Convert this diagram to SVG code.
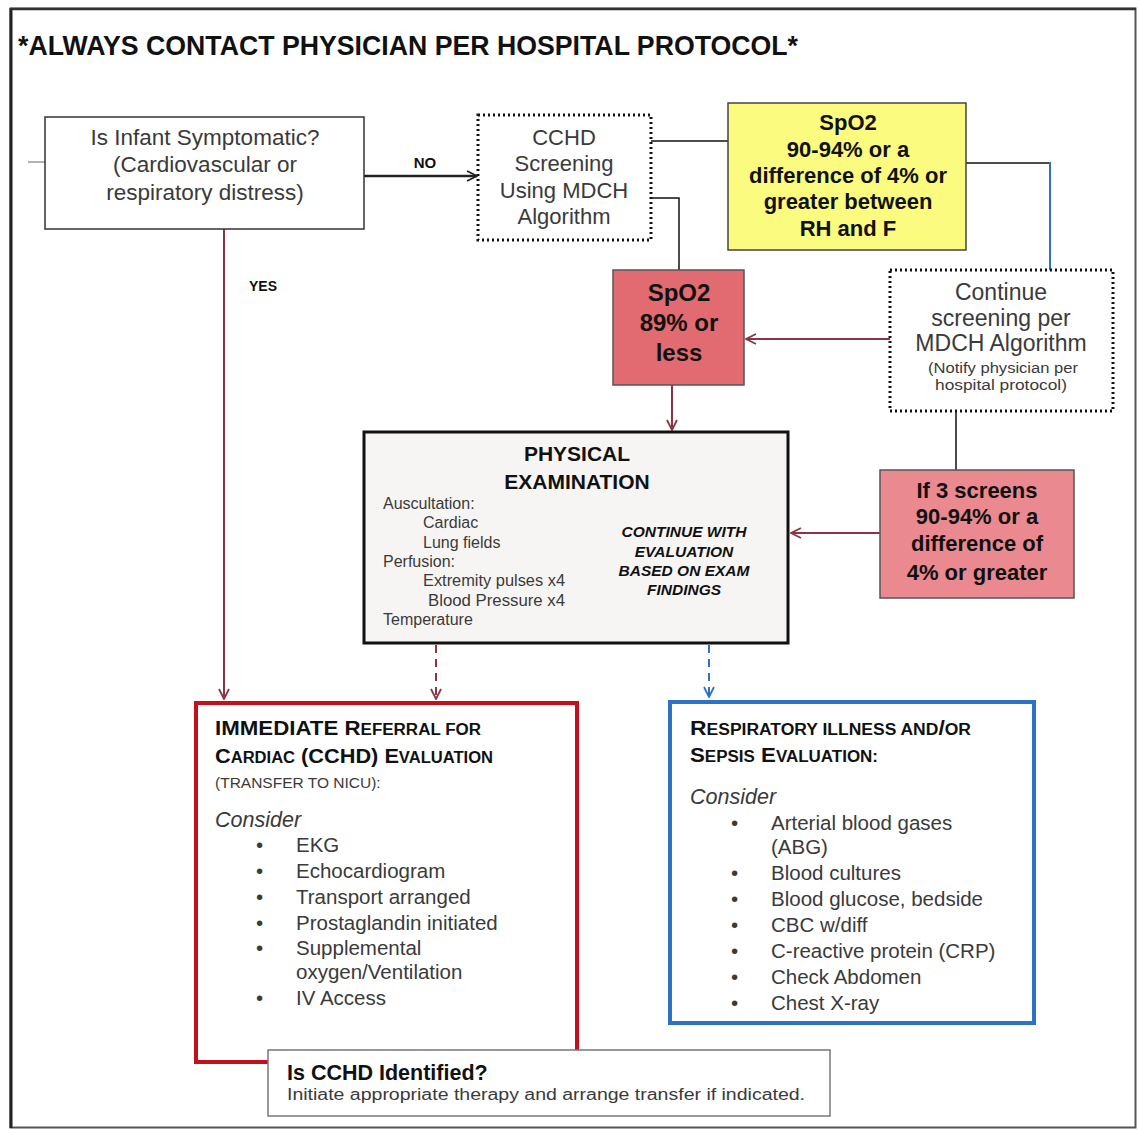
<svg xmlns="http://www.w3.org/2000/svg" width="1139" height="1130" viewBox="0 0 1139 1130">
<defs>
<style>
.t{font-family:"Liberation Sans",Arial,sans-serif;fill:#3a3a3a}
.b{font-family:"Liberation Sans",Arial,sans-serif;font-weight:bold;fill:#111}
.c{text-anchor:middle}
.box{fill:#fff;stroke:#333;stroke-width:1.5}
.dot{fill:#fff;stroke:#111;stroke-width:3;stroke-dasharray:2 3}
.k{fill:none;stroke:#111;stroke-width:1.5}
.r{fill:none;stroke:#8a3444;stroke-width:2}
</style>
<marker id="ar" viewBox="0 0 12 12" refX="11" refY="6" markerWidth="12" markerHeight="12" markerUnits="userSpaceOnUse" orient="auto"><path d="M1,1 L11,6 L1,11" fill="none" stroke="#8a3444" stroke-width="1.8"/></marker>
<marker id="ak" viewBox="0 0 12 12" refX="11" refY="6" markerWidth="12" markerHeight="12" markerUnits="userSpaceOnUse" orient="auto"><path d="M1,1 L11,6 L1,11" fill="none" stroke="#222" stroke-width="1.8"/></marker>
<marker id="ab" viewBox="0 0 12 12" refX="11" refY="6" markerWidth="12" markerHeight="12" markerUnits="userSpaceOnUse" orient="auto"><path d="M1,1 L11,6 L1,11" fill="none" stroke="#2d72c4" stroke-width="1.8"/></marker>
</defs>
<rect width="1139" height="1130" fill="#fff"/>
<rect x="10.5" y="8.5" width="1125" height="1119" fill="#fff" stroke="#555" stroke-width="2"/>
<line x1="11" y1="8" x2="11" y2="1128" stroke="#222" stroke-width="3"/>
<line x1="10" y1="9" x2="1136" y2="9" stroke="#333" stroke-width="2.5"/>
<text class="b" x="18" y="55" font-size="27" textLength="780" lengthAdjust="spacingAndGlyphs">*ALWAYS CONTACT PHYSICIAN PER HOSPITAL PROTOCOL*</text>

<g id="connectors">
<line x1="28" y1="162" x2="45" y2="162" stroke="#999" stroke-width="1.5"/>
<line x1="364" y1="176" x2="477" y2="176" stroke="#222" stroke-width="2.5" marker-end="url(#ak)"/>
<text class="b" x="425" y="168" font-size="15" text-anchor="middle">NO</text>
<polyline class="k" points="651,141 728,141"/>
<polyline class="k" points="651,198 679,198 679,270"/>
<polyline class="k" points="966,163 1050,163"/>
<line x1="1050" y1="162" x2="1050" y2="270" stroke="#2d72c4" stroke-width="2"/>
<line class="r" x1="890" y1="339" x2="746" y2="339" marker-end="url(#ar)"/>
<line class="k" x1="956" y1="411" x2="956" y2="470"/>
<line class="r" x1="880" y1="533" x2="791" y2="533" marker-end="url(#ar)"/>
<line class="r" x1="672" y1="385" x2="672" y2="430" marker-end="url(#ar)"/>
<line class="r" x1="224" y1="229" x2="224" y2="699" marker-end="url(#ar)"/>
<text class="b" x="263" y="291" font-size="14" text-anchor="middle">YES</text>
<line class="r" x1="436" y1="645" x2="436" y2="699" stroke-dasharray="8 6" marker-end="url(#ar)"/>
<line x1="709" y1="645" x2="709" y2="697" stroke="#2d72c4" stroke-width="2" stroke-dasharray="8 6" marker-end="url(#ab)"/>
</g>

<g id="symptomatic">
<rect class="box" x="45" y="117" width="319" height="112"/>
<text class="t c" x="205" y="145" font-size="22.5">Is Infant Symptomatic?</text>
<text class="t c" x="205" y="172" font-size="22.5">(Cardiovascular or</text>
<text class="t c" x="205" y="200" font-size="22.5">respiratory distress)</text>
</g>

<g id="screening">
<rect class="dot" x="478" y="115" width="173" height="125"/>
<text class="t c" x="564" y="145" font-size="22">CCHD</text>
<text class="t c" x="564" y="171" font-size="22">Screening</text>
<text class="t c" x="564" y="198" font-size="22">Using MDCH</text>
<text class="t c" x="564" y="224" font-size="22">Algorithm</text>
</g>

<g id="yellow">
<rect x="728" y="103" width="238" height="147" fill="#fbfb80" stroke="#444" stroke-width="1.5"/>
<text class="b c" x="848" y="130" font-size="22">SpO2</text>
<text class="b c" x="848" y="157" font-size="22">90-94% or a</text>
<text class="b c" x="848" y="183" font-size="22">difference of 4% or</text>
<text class="b c" x="848" y="209" font-size="22">greater between</text>
<text class="b c" x="848" y="236" font-size="22">RH and F</text>
</g>

<g id="spo2low">
<rect x="613" y="270" width="131" height="115" fill="#e16b70" stroke="#555" stroke-width="1.5"/>
<text class="b c" x="679" y="301" font-size="24">SpO2</text>
<text class="b c" x="679" y="331" font-size="24">89% or</text>
<text class="b c" x="679" y="361" font-size="24">less</text>
</g>

<g id="continue">
<rect class="dot" x="890" y="270" width="223" height="141"/>
<text class="t c" x="1001" y="300" font-size="23">Continue</text>
<text class="t c" x="1001" y="326" font-size="23">screening per</text>
<text class="t c" x="1001" y="351" font-size="23">MDCH Algorithm</text>
<text class="t c" x="1003" y="373" font-size="14" textLength="150" lengthAdjust="spacingAndGlyphs">(Notify physician per</text>
<text class="t c" x="1001" y="390" font-size="14" textLength="132" lengthAdjust="spacingAndGlyphs">hospital protocol)</text>
</g>

<g id="threescreens">
<rect x="880" y="470" width="194" height="128" fill="#ea898f" stroke="#555" stroke-width="1.5"/>
<text class="b c" x="977" y="498" font-size="22">If 3 screens</text>
<text class="b c" x="977" y="524" font-size="22">90-94% or a</text>
<text class="b c" x="977" y="551" font-size="22">difference of</text>
<text class="b c" x="977" y="580" font-size="22">4% or greater</text>
</g>

<g id="exam">
<rect x="364" y="432" width="424" height="211" fill="#f7f5f3" stroke="#111" stroke-width="3"/>
<text class="b c" x="577" y="461" font-size="21">PHYSICAL</text>
<text class="b c" x="577" y="489" font-size="21">EXAMINATION</text>
<text class="t" x="383" y="509" font-size="16">Auscultation:</text>
<text class="t" x="423" y="528" font-size="16">Cardiac</text>
<text class="t" x="423" y="548" font-size="16">Lung fields</text>
<text class="t" x="383" y="567" font-size="16">Perfusion:</text>
<text class="t" x="423" y="586" font-size="16" textLength="142" lengthAdjust="spacingAndGlyphs">Extremity pulses x4</text>
<text class="t" x="428" y="606" font-size="16" textLength="137" lengthAdjust="spacingAndGlyphs">Blood Pressure x4</text>
<text class="t" x="383" y="625" font-size="16">Temperature</text>
<text class="b c" x="684" y="537" font-size="15.5" font-style="italic">CONTINUE WITH</text>
<text class="b c" x="684" y="557" font-size="15.5" font-style="italic">EVALUATION</text>
<text class="b c" x="684" y="576" font-size="15.5" font-style="italic">BASED ON EXAM</text>
<text class="b c" x="684" y="595" font-size="15.5" font-style="italic">FINDINGS</text>
</g>

<g id="cardiac">
<rect x="196" y="703" width="381" height="359" fill="#fff" stroke="#c4101b" stroke-width="4"/>
<text class="b" x="215" y="735" font-size="21" textLength="266" lengthAdjust="spacingAndGlyphs">IMMEDIATE R<tspan font-size="16">EFERRAL FOR</tspan></text>
<text class="b" x="215" y="763" font-size="21" textLength="278" lengthAdjust="spacingAndGlyphs">C<tspan font-size="16">ARDIAC</tspan> (CCHD) E<tspan font-size="16">VALUATION</tspan></text>
<text class="t" x="215" y="788" font-size="15.5">(TRANSFER TO NICU):</text>
<text class="t" x="215" y="827" font-size="21.5" font-style="italic">Consider</text>
<g class="t" font-size="20.5">
<text x="256" y="852">•</text><text x="296" y="852">EKG</text>
<text x="256" y="878">•</text><text x="296" y="878">Echocardiogram</text>
<text x="256" y="904">•</text><text x="296" y="904">Transport arranged</text>
<text x="256" y="930">•</text><text x="296" y="930">Prostaglandin initiated</text>
<text x="256" y="955">•</text><text x="296" y="955">Supplemental</text>
<text x="296" y="979">oxygen/Ventilation</text>
<text x="256" y="1005">•</text><text x="296" y="1005">IV Access</text>
</g>
</g>

<g id="respiratory">
<rect x="670" y="702" width="364" height="321" fill="#fff" stroke="#2d72c4" stroke-width="4"/>
<text class="b" x="690" y="735" font-size="21" textLength="281" lengthAdjust="spacingAndGlyphs">R<tspan font-size="16">ESPIRATORY ILLNESS AND</tspan>/<tspan font-size="16">OR</tspan></text>
<text class="b" x="690" y="762" font-size="21" textLength="188" lengthAdjust="spacingAndGlyphs">S<tspan font-size="16">EPSIS</tspan> E<tspan font-size="16">VALUATION:</tspan></text>
<text class="t" x="690" y="804" font-size="21.5" font-style="italic">Consider</text>
<g class="t" font-size="20.5">
<text x="731" y="830">•</text><text x="771" y="830">Arterial blood gases</text>
<text x="771" y="854">(ABG)</text>
<text x="731" y="880">•</text><text x="771" y="880">Blood cultures</text>
<text x="731" y="906">•</text><text x="771" y="906">Blood glucose, bedside</text>
<text x="731" y="932">•</text><text x="771" y="932">CBC w/diff</text>
<text x="731" y="958">•</text><text x="771" y="958">C-reactive protein (CRP)</text>
<text x="731" y="984">•</text><text x="771" y="984">Check Abdomen</text>
<text x="731" y="1010">•</text><text x="771" y="1010">Chest X-ray</text>
</g>
</g>

<g id="identified">
<rect x="268" y="1050" width="562" height="66" fill="#fff" stroke="#777" stroke-width="1.5"/>
<text class="b" x="287" y="1080" font-size="21.5">Is CCHD Identified?</text>
<text class="t" x="287" y="1100" font-size="16" textLength="518" lengthAdjust="spacingAndGlyphs">Initiate appropriate therapy and arrange transfer if indicated.</text>
</g>
</svg>
